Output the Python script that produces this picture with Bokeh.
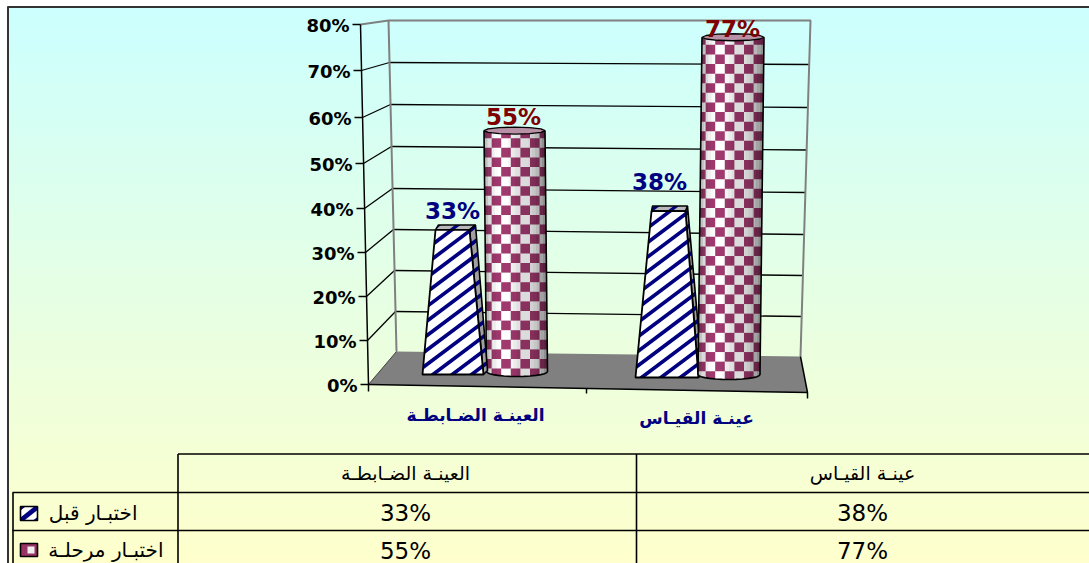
import numpy as np
from bokeh.plotting import figure
from bokeh.core.properties import value
from bokeh.models import Range1d
from bokeh.embed import file_html
from bokeh.resources import INLINE

# ---- data ----
categories = ["العينـة الضـابطـة", "عينـة القيـاس"]
series_names = ["اختبـار قبل", "اختبـار مرحلـة"]
before_test = [33, 38]
stage_test = [55, 77]
tick_values = [0, 10, 20, 30, 40, 50, 60, 70, 80]
tick_labels = ["0%", "10%", "20%", "30%", "40%", "50%", "60%", "70%", "80%"]

# ---- projection of the 3D box on to the page (Bokeh has no 3D scale) ----
W, H = 1089, 563
FRONT_Y = [384, 340, 296, 252, 208, 163, 117, 70, 24]
BACK_L_Y = [351, 311, 270, 229, 188, 146, 104, 62, 20]
BACK_R_Y = [356, 316, 275, 234, 192, 149.5, 107, 64, 20]
PX_PER_PCT = 4.38
front_x = lambda v: np.interp(v, [0, 80], [368, 360])
back_lx = lambda v: np.interp(v, [0, 80], [396, 388])
back_rx = lambda v: np.interp(v, [0, 80], [800, 810])

p = figure(width=W, height=H, x_range=Range1d(0, W), y_range=Range1d(H, 0),
           output_backend="svg", toolbar_location=None, min_border=0,
           x_axis_type=None, y_axis_type=None)
p.outline_line_color = None
p.grid.visible = False
p.background_fill_color = "white"
p.border_fill_color = "white"
p.styles = {"position": "absolute", "left": "0px", "top": "0px"}

FONT = value("DejaVu Sans")


def clip(subject, poly):
    """Clip polygon `subject` to the convex polygon `poly`."""
    area = sum(poly[i][0] * poly[(i + 1) % len(poly)][1] - poly[(i + 1) % len(poly)][0] * poly[i][1]
               for i in range(len(poly)))
    sign = 1 if area > 0 else -1
    out = list(subject)
    for i in range(len(poly)):
        a, b = poly[i], poly[(i + 1) % len(poly)]
        inp, out = out, []
        side = lambda q: sign * ((b[0] - a[0]) * (q[1] - a[1]) - (b[1] - a[1]) * (q[0] - a[0]))
        for j in range(len(inp)):
            c, d = inp[j], inp[(j + 1) % len(inp)]
            sc, sd = side(c), side(d)
            if sc >= 0:
                out.append(c)
            if sc * sd < 0:
                t = sc / (sc - sd)
                out.append((c[0] + t * (d[0] - c[0]), c[1] + t * (d[1] - c[1])))
        if not out:
            return []
    return out


def poly(points, fill, line=None, lw=1.5, alpha=1.0):
    p.patch([q[0] for q in points], [q[1] for q in points], fill_color=fill, fill_alpha=alpha if fill else 0,
            line_color=line, line_width=lw, line_alpha=1 if line else 0)


def polys(shapes, fill, alpha=1.0):
    shapes = [s for s in shapes if s]
    if shapes:
        p.patches([[q[0] for q in s] for s in shapes], [[q[1] for q in s] for s in shapes],
                  fill_color=fill, fill_alpha=alpha, line_alpha=0)


def stripes(face, period=14.5, band=4.6, slope=0.75):
    xs = [q[0] for q in face]
    ys = [q[1] for q in face]
    x0, x1 = min(xs), max(xs)
    c0 = min(ys) + slope * x0
    c1 = max(ys) + slope * x1
    out = []
    c = np.floor(c0 / period) * period
    while c < c1:
        s = [(x0, c - slope * x0), (x1, c - slope * x1), (x1, c + band - slope * x1), (x0, c + band - slope * x0)]
        out.append(clip(s, face))
        c += period
    return out


# ---- background ----
n = 60
edges = np.linspace(7, H, n + 1)
t = (np.arange(n) + .5) / n
bands = ["#%02x%02x%02x" % (int(204 + 51 * k), 255, int(255 - 51 * k)) for k in t]
p.quad(left=7, right=W, top=edges[:-1], bottom=edges[1:] + 1, fill_color=bands, line_alpha=0)
p.segment([7.5, 7], [6, 6.5], [7.5, W], [H, 6.5], line_color="#333333", line_width=2)

# ---- 3D walls ----
floor = [(front_x(0), FRONT_Y[0]), (back_lx(0), BACK_L_Y[0]), (back_rx(0), BACK_R_Y[0]), (807, 392)]
poly(floor, "#808080")
tv = np.array(tick_values, float)
inner = tv[1:-1]
p.segment(back_lx(inner), np.interp(inner, tv, BACK_L_Y), back_rx(inner), np.interp(inner, tv, BACK_R_Y),
          line_color="black", line_width=1.3)
p.segment(front_x(inner), np.interp(inner, tv, FRONT_Y), back_lx(inner), np.interp(inner, tv, BACK_L_Y),
          line_color="black", line_width=1.3)
p.line([front_x(80), back_lx(80), back_rx(80), back_rx(0)], [FRONT_Y[-1], BACK_L_Y[-1], BACK_R_Y[-1], BACK_R_Y[0]],
       line_color="#808080", line_width=2)
p.line([back_lx(80), back_lx(0)], [BACK_L_Y[-1], BACK_L_Y[0]], line_color="#808080", line_width=2)
p.line([floor[0][0], floor[1][0]], [floor[0][1], floor[1][1]], line_color="#404040", line_width=1)
p.line([floor[2][0], floor[3][0], floor[0][0]], [floor[2][1], floor[3][1], floor[0][1]], line_color="black", line_width=1.5)
p.line([front_x(80), front_x(0), front_x(0)], [FRONT_Y[-1], FRONT_Y[0], 391], line_color="black", line_width=1.5)
p.segment(front_x(tv) - 8, FRONT_Y, front_x(tv), FRONT_Y, line_color="black", line_width=1.5)
p.segment([586, 807], [388, 392], [586, 807], [393, 398], line_color="black", line_width=1.5)
p.text(front_x(tv) - 11, np.array(FRONT_Y) + 1, tick_labels, text_font=FONT, text_font_style="bold",
       text_font_size="18px", text_align="right", text_baseline="middle", text_color="black")


# ---- bars ----
def cylinder(v, base_y, cx_b, cx_t, hw):
    top_y = base_y - PX_PER_PCT * v
    ry_t, ry_b = 3.5, 5
    th = np.linspace(np.pi, 0, 15)
    bottom = [(cx_b + hw * np.cos(a), base_y + ry_b * np.sin(a)) for a in th]
    body = [(cx_t - hw, top_y)] + bottom + [(cx_t + hw, top_y)]
    poly(body, "white")
    cell = 9.6
    x0 = min(cx_t, cx_b) - hw - 2
    rows = int((base_y + ry_b - top_y) / cell) + 1
    cols = int((2 * hw + 8) / cell) + 1
    cells = []
    for r in range(rows):
        for c in range(cols):
            if (r + c) % 2 == 0:
                xa = x0 + c * cell
                ya = top_y - 2 + r * cell
                cells.append(clip([(xa, ya), (xa + cell, ya), (xa + cell, ya + cell), (xa, ya + cell)], body))
    polys(cells, "#a03a6e")
    n_s = 18
    uu = np.linspace(0, 1, n_s + 1)
    shade = [.24, .14, .07, .02, .0, .0, .0, .04, .08, .12, .14, .14, .14, .18, .22, .28, .36, .44]
    for i in range(n_s):
        strip = [(cx_t - hw + 2 * hw * uu[i], top_y - 1), (cx_t - hw + 2 * hw * uu[i + 1], top_y - 1),
                 (cx_b - hw + 2 * hw * uu[i + 1], base_y + 8), (cx_b - hw + 2 * hw * uu[i], base_y + 8)]
        polys([clip(strip, body)], "black", shade[i])
    p.line([q[0] for q in body], [q[1] for q in body], line_color="black", line_width=1.6)
    a = np.linspace(0, 2 * np.pi, 13)
    cap = [(cx_t + hw * np.cos(k), top_y + ry_t * np.sin(k)) for k in a]
    poly(cap, "#b891a6", "black", 1.3)


def prism(v, base_y, xl_b, xr_b, xl_t, xr_t, dl, dr):
    top_y = base_y - PX_PER_PCT * v
    front = [(xl_b, base_y), (xl_t, top_y), (xr_t, top_y), (xr_b, base_y)]
    side = [(xr_t, top_y), (xr_t + dr, top_y - 5), (xr_b + 4, base_y - 4), (xr_b, base_y)]
    top = [(xl_t, top_y), (xl_t + dl, top_y - 5), (xr_t + dr, top_y - 5), (xr_t, top_y)]
    poly(side, "#a0a0a0")
    polys(stripes(side), "#000080")
    poly(side, None, "black", 1.6)
    poly(top, "#b8b8b8")
    polys(stripes(top, band=4), "#000080")
    poly(top, None, "black", 1.6)
    poly(front, "white")
    polys(stripes(front), "#000080")
    poly(front, None, "black", 1.8)


cylinder(stage_test[0], 371, 516.5, 514, 30.5)
prism(before_test[0], 374, 422, 483, 435, 469, 3, 6)
prism(before_test[1], 377, 635, 698, 651, 685, 1, 2)
cylinder(stage_test[1], 374, 728.5, 732.5, 31)

label_x_before = [452, 659]
label_y_before = [210, 181]
label_x_stage = [513, 732]
label_y_stage = [116, 28]
p.text(label_x_before, label_y_before, [f"{v}%" for v in before_test], text_font=FONT, text_font_style="bold",
       text_font_size="23px", text_align="center", text_baseline="middle", text_color="#000080")
p.text(label_x_stage, label_y_stage, [f"{v}%" for v in stage_test], text_font=FONT, text_font_style="bold",
       text_font_size="23px", text_align="center", text_baseline="middle", text_color="#800000")

# category axis labels
p.text([475, 696], [414, 417], categories, text_font=FONT, text_font_style="bold", text_font_size="17px",
       text_align="center", text_baseline="middle", text_color="#000080")

# ---- data table ----
p.segment([177.5, 12, 12, 177.5, 636], [453.5, 492, 530, 453.5, 453.5], [W, W, W, 177.5, 636], [453.5, 492, 530, H, H],
          line_color="black", line_width=1.6)
p.segment([12.5], [492], [12.5], [H], line_color="black", line_width=1.6)
col_x = [405, 862]
p.text(col_x, [472, 472], categories, text_font=FONT, text_font_size="19px", text_align="center",
       text_baseline="middle", text_color="black")
p.text(col_x, [512, 512], [f"{v}%" for v in before_test], text_font=FONT, text_font_size="23px", text_align="center",
       text_baseline="middle", text_color="black")
p.text(col_x, [550, 550], [f"{v}%" for v in stage_test], text_font=FONT, text_font_size="23px", text_align="center",
       text_baseline="middle", text_color="black")
p.text([137, 163], [512, 549], series_names, text_font=FONT, text_font_size="20px", text_align="right",
       text_baseline="middle", text_color="black")

key1 = [(20, 506), (37, 506), (37, 520), (20, 520)]
poly(key1, "white")
polys(stripes(key1, period=13, band=6, slope=0.8), "#000080")
poly(key1, None, "black", 1.6)
key2 = [(20, 543), (37, 543), (37, 556), (20, 556)]
poly(key2, "#993366")
poly([(27, 546), (34, 546), (34, 553), (27, 553)], "#eeeeee")
poly(key2, None, "black", 1.6)

open("out.html", "w").write(file_html(p, INLINE))
